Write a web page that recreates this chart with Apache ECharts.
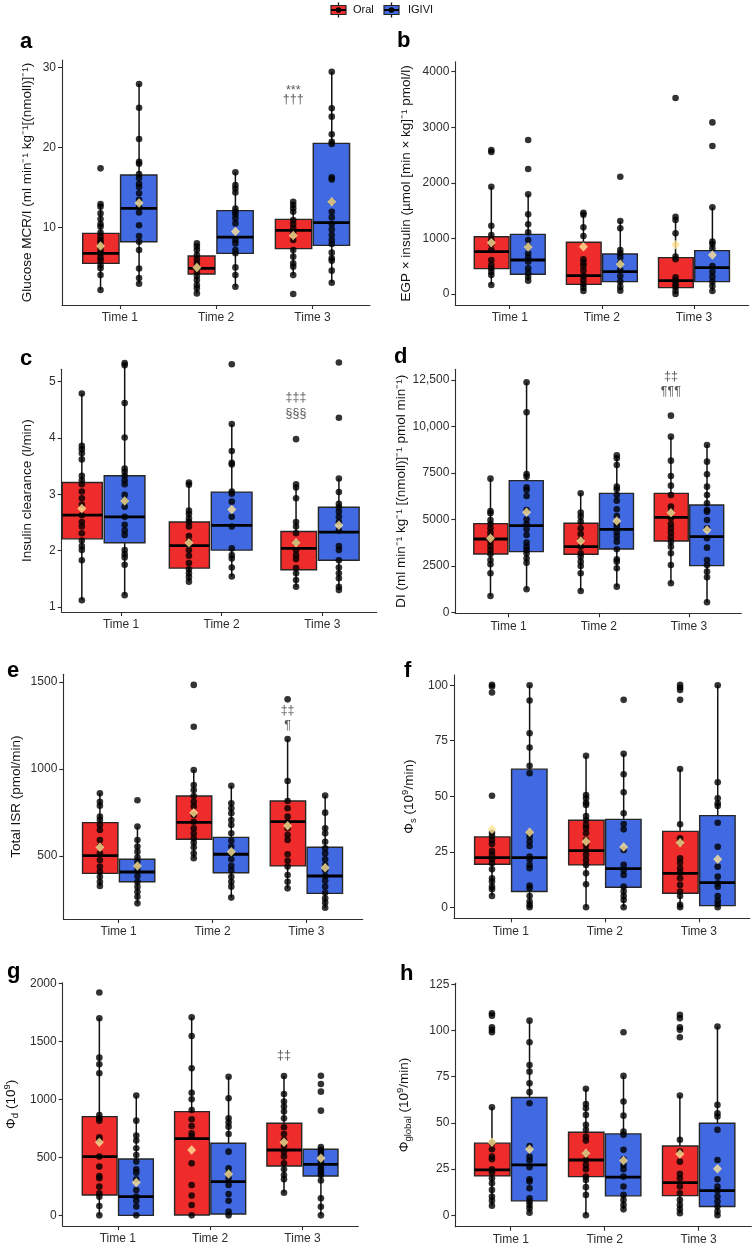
<!DOCTYPE html>
<html><head><meta charset="utf-8">
<script src="https://cdn.jsdelivr.net/npm/echarts@6/dist/echarts.min.js"></script>
<style>html,body{margin:0;padding:0;background:#fff}#c{width:756px;height:1247px}</style>
</head><body><div id="c"></div>
<script>
// ---------- categories / groups ----------
const times = ['Time 1', 'Time 2', 'Time 3'];
const groups = ['Oral', 'IGIVI'];

// ---------- panel a : Glucose MCR/I ----------
const aTicks = [10, 20, 30];
const aTickLabels = ['10', '20', '30'];
const aOralBox = [[2.2, 5.54, 6.79, 9.29, 12.96], [1.79, 4.21, 4.92, 6.46, 8.04], [4.08, 7.38, 9.67, 11.04, 13.25]];
const aIgiviBox = [[3.04, 8.25, 12.42, 16.58, 27.96], [2.63, 6.79, 8.83, 12.13, 16.92], [3.13, 7.79, 10.63, 20.54, 29.5]];
const aOralMean = [7.71, 5.04, 9.04];
const aIgiviMean = [13.1, 9.54, 13.25];
const aOralPts = [
  [17.42, 12.96, 12.63, 11.79, 11.08, 10.46, 10.13, 9.38, 8.88, 8.46, 8.13, 7.71, 7.21, 6.79, 6.29, 5.88, 5.33, 4.92, 4.08, 2.21],
  [8.04, 7.63, 7.21, 6.58, 6.04, 5.54, 5.04, 4.5, 3.96, 3.46, 2.83, 2.42, 1.79],
  [13.25, 12.83, 12.42, 12.0, 10.96, 10.46, 9.92, 9.29, 8.46, 7.21, 6.38, 5.54, 5.13, 4.08, 1.71]];
const aIgiviPts = [
  [27.96, 25.0, 21.08, 18.25, 18.0, 16.7, 16.2, 15.5, 15.1, 14.3, 13.5, 12.6, 11.9, 10.3, 8.96, 8.25, 7.2, 4.9, 3.7, 3.0],
  [16.92, 15.33, 14.9, 14.4, 12.4, 12.0, 11.67, 11.17, 10.54, 8.46, 8.04, 7.21, 6.8, 5.04, 4.08, 2.63],
  [29.5, 24.92, 23.88, 21.67, 20.75, 20.46, 16.29, 16.04, 13.25, 12.0, 11.29, 10.46, 9.79, 9.08, 8.46, 7.96, 6.88, 6.17, 5.88, 4.63, 3.13]];
const aNoteText = ['***', '†††'];
const aNoteVal = [27.2, 25.96];

// ---------- panel b : EGP x insulin ----------
const bTicks = [0, 1000, 2000, 3000, 4000];
const bTickLabels = ['0', '1000', '2000', '3000', '4000'];
const bOralBox = [[162, 456, 762, 1031, 1931], [54, 174, 330, 930, 1463], [0, 114, 240, 654, 1391]];
const bIgiviBox = [[240, 354, 612, 1073, 1793], [60, 222, 402, 720, 1313], [54, 222, 474, 780, 1559]];
const bOralMean = [923, 852, 888];
const bIgiviMean = [846, 534, 702];
const bOralPts = [
  [2591, 2555, 1931, 1229, 1061, 972, 900, 792, 612, 522, 462, 402, 342, 162],
  [1463, 1427, 1199, 1043, 624, 564, 504, 420, 324, 252, 174, 114, 54],
  [3526, 1391, 1331, 1091, 672, 624, 300, 240, 180, 132, 60, 0]];
const bIgiviPts = [
  [2771, 2249, 1793, 1433, 1253, 1109, 972, 852, 732, 660, 582, 462, 384, 312, 240],
  [2111, 1313, 1181, 792, 732, 660, 552, 432, 324, 222, 132, 60],
  [3088, 2663, 1559, 942, 900, 822, 504, 402, 312, 222, 144, 54]];

// ---------- panel c : Insulin clearance ----------
const cTicks = [1, 2, 3, 4, 5];
const cTickLabels = ['1', '2', '3', '4', '5'];
const cOralBox = [[1.12, 2.21, 2.63, 3.21, 4.79], [1.45, 1.69, 2.09, 2.51, 3.21], [1.36, 1.66, 2.04, 2.34, 3.18]];
const cIgiviBox = [[1.21, 2.14, 2.60, 3.33, 5.31], [1.54, 2.01, 2.45, 3.04, 4.25], [1.30, 1.83, 2.33, 2.77, 3.28]];
const cOralMean = [2.75, 2.14, 2.14];
const cIgiviMean = [2.88, 2.73, 2.45];
const cOralPts = [
  [4.79, 3.86, 3.80, 3.73, 3.62, 3.33, 3.25, 3.18, 3.05, 2.93, 2.82, 2.63, 2.51, 2.43, 2.31, 2.18, 2.08, 2.01, 1.83, 1.12],
  [3.21, 3.17, 2.71, 2.65, 2.57, 2.51, 2.43, 2.26, 2.16, 2.01, 1.91, 1.78, 1.67, 1.60, 1.53, 1.45],
  [3.98, 3.18, 3.12, 2.93, 2.51, 2.43, 2.31, 2.14, 2.01, 1.92, 1.85, 1.69, 1.60, 1.48, 1.36]];
const cIgiviPts = [
  [5.33, 5.29, 4.62, 4.01, 3.46, 3.40, 3.33, 3.25, 3.18, 2.99, 2.88, 2.78, 2.60, 2.46, 2.36, 2.28, 2.01, 1.94, 1.88, 1.75, 1.21],
  [5.31, 4.25, 3.77, 3.56, 3.53, 3.05, 3.01, 2.87, 2.60, 2.43, 2.04, 1.92, 1.86, 1.70, 1.54],
  [5.34, 4.36, 3.28, 3.04, 2.83, 2.77, 2.69, 2.60, 2.51, 2.36, 2.08, 2.01, 1.83, 1.70, 1.60, 1.51, 1.36, 1.30]];
const cNoteText = ['‡‡‡', '§§§'];
const cNoteVal = [4.716, 4.44];

// ---------- panel d : DI ----------
const dTicks = [0, 2500, 5000, 7500, 10000, 12500];
const dTickLabels = ['0', '2500', '5000', '7500', '10,000', '12,500'];
const dOralBox = [[879, 3138, 3945, 4770, 7192], [1148, 3120, 3533, 4788, 6402], [1560, 3838, 5111, 6402, 9451]];
const dIgiviBox = [[1237, 3264, 4663, 7084, 12374], [1381, 3407, 4466, 6402, 8411], [538, 2511, 4071, 5775, 9003]];
const dOralMean = [3981, 3838, 5362];
const dIgiviMean = [5380, 4914, 4430];
const dOralPts = [
  [7192, 5452, 5326, 4968, 4752, 4519, 4286, 4071, 3802, 3569, 3354, 3138, 2816, 2582, 2098, 879],
  [6402, 5362, 5147, 4878, 4519, 4214, 3892, 3533, 3174, 2995, 2726, 2493, 2098, 1148],
  [10581, 9451, 8160, 7335, 6815, 6313, 5685, 5416, 5057, 4752, 4519, 4286, 4035, 3802, 3533, 3174, 2547, 1560]];
const dIgiviPts = [
  [12374, 10760, 7443, 7299, 6725, 6582, 6259, 5506, 5004, 4752, 4466, 4161, 3748, 3533, 3354, 3174, 2905, 2672, 1237],
  [8447, 8285, 7927, 6761, 6618, 6313, 6008, 5542, 5183, 4788, 4609, 4304, 4071, 3802, 3390, 2852, 2726, 2367, 1381],
  [9003, 8106, 7425, 6761, 6313, 5865, 5506, 5416, 4968, 4519, 3981, 3479, 2816, 2547, 2188, 1883, 538]];
const dNoteText = ['‡‡', '¶¶¶'];
const dNoteVal = [12678, 11871];

// ---------- panel e : Total ISR ----------
const eTicks = [500, 1000, 1500];
const eTickLabels = ['500', '1000', '1500'];
const eOralBox = [[328, 400, 502, 692, 860], [487, 596, 693, 845, 994], [314, 443, 697, 816, 1172]];
const eIgiviBox = [[228, 352, 408, 481, 669], [261, 404, 510, 607, 904], [203, 285, 385, 550, 847]];
const eOralMean = [550, 749, 674];
const eIgiviMean = [443, 525, 433];
const eOralPts = [
  [860, 812, 789, 726, 707, 678, 649, 592, 554, 515, 477, 439, 410, 381, 352, 328],
  [1483, 1243, 994, 908, 879, 845, 812, 784, 736, 697, 659, 630, 602, 577, 550, 515, 487],
  [1400, 1172, 931, 816, 774, 726, 692, 659, 621, 592, 510, 473, 439, 391, 352, 314]];
const eIgiviPts = [
  [820, 669, 592, 554, 525, 492, 467, 439, 416, 385, 352, 324, 295, 266, 228],
  [904, 803, 774, 745, 707, 678, 630, 588, 554, 515, 481, 443, 416, 381, 352, 324, 261],
  [847, 749, 659, 630, 582, 544, 515, 481, 448, 420, 385, 358, 324, 289, 257, 232, 203]];
const eNoteText = ['‡‡', '¶'];
const eNoteVal = [1335, 1247];

// ---------- panel f : Phi s ----------
const fTicks = [0, 25, 50, 75, 100];
const fTickLabels = ['0', '25', '50', '75', '100'];
const fOralBox = [[5.3, 19.4, 22.4, 31.7, 31.7], [0, 19.1, 25.5, 39.2, 68.2], [0, 6.3, 15.3, 34.2, 62.3]];
const fIgiviBox = [[0, 7.1, 22.4, 62.2, 100], [0, 9.0, 17.4, 39.6, 69.1], [0, 0.75, 11.1, 41.3, 100]];
const fOralMean = [35.1, 29.6, 29.1];
const fIgiviMean = [33.8, 27.2, 21.6];
const fOralPts = [
  [100.2, 99.4, 96.7, 50.2, 33.6, 32.1, 30.3, 28.5, 25.4, 23.6, 21.6, 19.8, 17.1, 13.1, 11.6, 9.3, 8.1, 5.1],
  [68.2, 50.6, 49.1, 47.1, 46.1, 41.1, 39.3, 37.1, 35.6, 33.3, 30.3, 28.1, 25.8, 23.6, 21.3, 19.1, 15.3, 10.4, 0],
  [100.2, 99, 97.9, 93.4, 62.3, 37.4, 31.1, 29.1, 22.1, 20.1, 17.6, 15.6, 13.1, 10.1, 7.1, 5.1, 1.1, 0]];
const fIgiviPts = [
  [100, 93.1, 78.4, 71.9, 63.7, 60.4, 33.6, 31.8, 29.6, 27.6, 22.8, 21.6, 19.1, 17.6, 9.8, 8.6, 5.1, 2.6, 1.1, 0],
  [93.4, 69.1, 59.9, 51.8, 42.3, 37.5, 35.1, 25.8, 19.1, 16.8, 14.6, 9.3, 7.1, 5.1, 3.3, 0],
  [100, 56.3, 49.1, 46.8, 45.6, 38.1, 27.3, 18.3, 13.8, 10.8, 9.3, 5.1, 2.9, 1.5, 0]];

// ---------- panel g : Phi d ----------
const gTicks = [0, 500, 1000, 1500, 2000];
const gTickLabels = ['0', '500', '1000', '1500', '2000'];
const gOralBox = [[0, 175, 506, 851, 1698], [0, 3, 661, 894, 1707], [195, 425, 563, 793, 1201]];
const gIgiviBox = [[0, 0, 161, 486, 1032], [0, 11, 290, 621, 1195], [0, 339, 440, 569, 569]];
const gOralMean = [629, 563, 629];
const gIgiviMean = [282, 356, 491];
const gOralPts = [
  [1920, 1698, 1359, 1302, 1224, 865, 836, 816, 672, 649, 506, 420, 339, 319, 247, 190, 161, 80, 0],
  [1707, 1546, 1267, 1057, 1000, 908, 828, 770, 707, 678, 448, 261, 170, 89, 0],
  [1201, 1046, 980, 937, 894, 836, 759, 701, 649, 598, 549, 506, 448, 397, 348, 310, 195]];
const gIgiviPts = [
  [1032, 816, 687, 644, 578, 520, 463, 397, 368, 310, 218, 161, 126, 75, 0],
  [1195, 1009, 836, 799, 764, 701, 549, 405, 362, 319, 261, 184, 126, 32, 0],
  [1203, 1132, 1066, 902, 588, 565, 545, 520, 470, 440, 410, 390, 365, 347, 300, 147, 74, 0]];
const gNoteText = ['‡‡'];
const gNoteVal = [1373];

// ---------- panel h : Phi global ----------
const hTicks = [0, 25, 50, 75, 100, 125];
const hTickLabels = ['0', '25', '50', '75', '100', '125'];
const hOralBox = [[5.1, 21.3, 24.5, 39.0, 58.4], [0, 20.9, 29.9, 44.9, 68.4], [1.1, 10.6, 17.7, 37.5, 64.8]];
const hIgiviBox = [[1.4, 7.8, 27.2, 63.7, 105.3], [3.2, 10.5, 20.6, 44.0, 75.4], [0, 4.7, 13.3, 49.8, 102.1]];
const hOralMean = [39.5, 33.5, 33.2];
const hIgiviMean = [35.7, 29.6, 25.1];
const hOralPts = [
  [109.3, 108.0, 101.7, 100.3, 99.0, 58.4, 39.0, 35.7, 31.7, 30.3, 24.9, 23.1, 20.0, 17.3, 13.7, 10.1, 7.9, 5.1],
  [68.4, 60.2, 57.9, 54.3, 48.9, 46.2, 42.6, 40.4, 33.5, 29.9, 27.2, 24.9, 20.9, 19.1, 15.2, 11.0, 0],
  [108.4, 106.6, 101.7, 100.3, 96.3, 64.8, 40.8, 34.5, 29.0, 22.4, 20.0, 15.5, 11.9, 8.3, 5.6, 3.2, 1.1]];
const hIgiviPts = [
  [105.3, 93.6, 81.3, 77.7, 71.4, 66.6, 60.6, 37.5, 31.7, 29.6, 26.0, 19.5, 18.2, 14.6, 9.2, 7.4, 5.6, 3.8, 1.4],
  [99.0, 75.4, 61.5, 53.9, 45.3, 43.5, 35.4, 30.3, 27.2, 24.9, 20.9, 15.5, 11.0, 8.3, 5.6, 3.2],
  [102.1, 59.7, 55.2, 53.4, 46.2, 29.9, 19.5, 15.5, 13.3, 10.1, 7.4, 4.7, 2.0, 0]];

// ---------- styling / layout ----------
const FONT = '"Liberation Sans", Arial, Helvetica, sans-serif';
const RED = '#EE2C2C', BLUE = '#4169E1', MEAN = '#FFE595', INK = '#2e2e2e';
const DEF_BOX = {Oral: [-0.385, -0.008], IGIVI: [0.008, 0.385]};
const PT_OFF = {Oral: -0.2, IGIVI: 0.2};

const panels = [
  {k: 'a', L: 62, T: 60, R: 370, B: 305, y: [0.34, 30.96], lx: [0.40, 3.597], dx: [0.40, 3.597], gap: 28, letter: [20, 42.4],
   name: 'Glucose MCR/I (ml min⁻¹ kg⁻¹[(nmoll)]⁻¹)', ticks: aTicks, labels: aTickLabels,
   Oral: [aOralBox, aOralMean, aOralPts], IGIVI: [aIgiviBox, aIgiviMean, aIgiviPts], notes: [aNoteText, aNoteVal],
   boxOver: {Oral: {1: [-0.29, -0.012]}}},
  {k: 'b', L: 455.3, T: 61.7, R: 748.7, B: 305, y: [-198, 4180], lx: [0.409, 3.594], dx: [0.409, 3.594], gap: 42, letter: [397, 40.7],
   name: 'EGP × insulin (µmol [min × kg]⁻¹ pmol/l)', ticks: bTicks, labels: bTickLabels,
   Oral: [bOralBox, bOralMean, bOralPts], IGIVI: [bIgiviBox, bIgiviMean, bIgiviPts]},
  {k: 'c', L: 61.7, T: 369.3, R: 376.7, B: 612, y: [0.911, 5.22], lx: [0.411, 3.54], dx: [0.612, 3.553], gap: 27, letter: [20, 359],
   name: 'Insulin clearance (l/min)', ticks: cTicks, labels: cTickLabels,
   Oral: [cOralBox, cOralMean, cOralPts], IGIVI: [cIgiviBox, cIgiviMean, cIgiviPts], notes: [cNoteText, cNoteVal],
   boxDef: {Oral: [-0.383, -0.009], IGIVI: [0.009, 0.389]}, boxOver: {Oral: {2: [-0.341, -0.009]}}},
  {k: 'd', L: 455.3, T: 369.3, R: 741.3, B: 613.3, y: [-54, 13076], lx: [0.41, 3.58], dx: [0.41, 3.58], gap: 41, letter: [394, 357.4],
   name: 'DI (ml min⁻¹ kg⁻¹ [(nmoll)]⁻¹ pmol min⁻¹)', ticks: dTicks, labels: dTickLabels,
   Oral: [dOralBox, dOralMean, dOralPts], IGIVI: [dIgiviBox, dIgiviMean, dIgiviPts], notes: [dNoteText, dNoteVal]},
  {k: 'e', L: 63.3, T: 674.3, R: 362.7, B: 919, y: [138, 1544], lx: [0.41, 3.6], dx: [0.41, 3.6], gap: 40, letter: [7, 670.7],
   name: 'Total ISR (pmol/min)', ticks: eTicks, labels: eTickLabels,
   Oral: [eOralBox, eOralMean, eOralPts], IGIVI: [eIgiviBox, eIgiviMean, eIgiviPts], notes: [eNoteText, eNoteVal]},
  {k: 'f', L: 454, T: 675, R: 749.7, B: 918.3, y: [-4.95, 104.6], lx: [0.396, 3.54], dx: [0.396, 3.54], gap: 36, letter: [404, 670.7],
   name: '{n|Φ}{sub|s}{n| (10}{sup|9}{n|/min)}', ticks: fTicks, labels: fTickLabels,
   Oral: [fOralBox, fOralMean, fOralPts], IGIVI: [fIgiviBox, fIgiviMean, fIgiviPts]},
  {k: 'g', L: 62.7, T: 982.7, R: 358.3, B: 1226, y: [-92, 2005], lx: [0.403, 3.605], dx: [0.403, 3.605], gap: 42, letter: [7, 972.4],
   name: '{n|Φ}{sub|d}{n| (10}{sup|9}{n|)}', ticks: gTicks, labels: gTickLabels,
   Oral: [gOralBox, gOralMean, gOralPts], IGIVI: [gIgiviBox, gIgiviMean, gIgiviPts], notes: [gNoteText, gNoteVal]},
  {k: 'h', L: 455.3, T: 983.3, R: 751.3, B: 1226.7, y: [-6.2, 125.5], lx: [0.41, 3.56], dx: [0.41, 3.56], gap: 42, letter: [400, 974],
   name: '{n|Φ}{sub|global}{n| (10}{sup|9}{n|/min)}', ticks: hTicks, labels: hTickLabels,
   Oral: [hOralBox, hOralMean, hOralPts], IGIVI: [hIgiviBox, hIgiviMean, hIgiviPts]}
];

const grid = [], xAxis = [], yAxis = [], series = [], graphic = [];
const lbl = (ticks, labels) => v => { const i = ticks.findIndex(t => Math.abs(t - v) < 1e-9); return i >= 0 ? labels[i] : ''; };
const NF = 13.5;

panels.forEach((p, i) => {
  grid.push({left: p.L, top: p.T, width: p.R - p.L, height: p.B - p.T});
  xAxis.push({type: 'value', gridIndex: i, min: p.lx[0], max: p.lx[1], splitLine: {show: false},
    axisLine: {show: true, onZero: false, lineStyle: {color: INK, width: 1.1}},
    axisTick: {show: true, customValues: [1, 2, 3], length: 4, lineStyle: {color: INK, width: 1.1}},
    axisLabel: {customValues: [1, 2, 3], formatter: v => times[Math.round(v) - 1], color: INK, fontSize: 12, fontFamily: FONT, margin: 7}});
  xAxis.push({type: 'value', gridIndex: i, min: p.dx[0], max: p.dx[1], show: false});
  yAxis.push({type: 'value', gridIndex: i, min: p.y[0], max: p.y[1], splitLine: {show: false},
    axisLine: {show: true, onZero: false, lineStyle: {color: INK, width: 1.1}},
    axisTick: {show: true, customValues: p.ticks, length: 4, lineStyle: {color: INK, width: 1.1}},
    axisLabel: {customValues: p.ticks, formatter: lbl(p.ticks, p.labels), color: INK, fontSize: 12, fontFamily: FONT, margin: 6},
    name: p.name, nameLocation: 'middle', nameGap: p.gap, nameRotate: 90,
    nameTextStyle: {color: '#111', fontSize: NF, fontFamily: FONT,
      rich: {n: {fontSize: NF, fontFamily: FONT, color: '#111', lineHeight: 18, verticalAlign: 'middle'},
             sub: {fontSize: 9.5, fontFamily: FONT, color: '#111', lineHeight: 18, verticalAlign: 'bottom'},
             sup: {fontSize: 9.5, fontFamily: FONT, color: '#111', lineHeight: 18, verticalAlign: 'top'}}}});

  groups.forEach(g => {
    const [box, mean, pts] = p[g];
    const color = g === 'Oral' ? RED : BLUE;
    const def = (p.boxDef && p.boxDef[g]) || DEF_BOX[g];
    const over = (p.boxOver && p.boxOver[g]) || {};
    const po = PT_OFF[g];
    series.push({type: 'custom', name: g, xAxisIndex: 2 * i + 1, yAxisIndex: i, z: 2, silent: true,
      data: box.map((s, k) => [k + 1].concat(s)),
      encode: {x: 0, y: [1, 2, 3, 4, 5]},
      renderItem: (params, api) => {
        const t = api.value(0), lo = api.value(1), q1 = api.value(2), md = api.value(3), q3 = api.value(4), hi = api.value(5);
        const off = over[params.dataIndex] || def;
        const c = api.coord;
        const a1 = c([t + po, lo]), a2 = c([t + po, q1]), b1 = c([t + po, q3]), b2 = c([t + po, hi]);
        const tl = c([t + off[0], q3]), br = c([t + off[1], q1]);
        const m1 = c([t + off[0], md]), m2 = c([t + off[1], md]);
        const ws = {stroke: '#111', lineWidth: 1.5};
        return {type: 'group', children: [
          {type: 'line', shape: {x1: a1[0], y1: a1[1], x2: a2[0], y2: a2[1]}, style: ws},
          {type: 'line', shape: {x1: b1[0], y1: b1[1], x2: b2[0], y2: b2[1]}, style: ws},
          {type: 'rect', shape: {x: tl[0], y: tl[1], width: br[0] - tl[0], height: br[1] - tl[1]}, style: {fill: color, stroke: '#262626', lineWidth: 1.4}},
          {type: 'line', shape: {x1: m1[0], y1: m1[1], x2: m2[0], y2: m2[1]}, style: {stroke: '#000', lineWidth: 2.8}}
        ]};
      }});
    const pdata = [];
    pts.forEach((arr, k) => arr.forEach(v => pdata.push([k + 1 + po, v])));
    series.push({type: 'scatter', xAxisIndex: 2 * i + 1, yAxisIndex: i, z: 3, silent: true, clip: false,
      symbol: 'circle', symbolSize: 6.6, itemStyle: {color: '#000'}, data: pdata});
    series.push({type: 'scatter', xAxisIndex: 2 * i + 1, yAxisIndex: i, z: 4, silent: true, clip: false,
      symbol: 'diamond', symbolSize: [9, 9.5], itemStyle: {color: MEAN}, data: mean.map((v, k) => [k + 1 + po, v])});
  });

  if (p.notes) {
    const [txt, val] = p.notes;
    series.push({type: 'scatter', xAxisIndex: 2 * i + 1, yAxisIndex: i, z: 5, silent: true, clip: false,
      symbolSize: 0, data: txt.map((s, j) => ({value: [3 + PT_OFF.Oral, val[j]], label: {formatter: s}})),
      label: {show: true, position: 'inside', color: INK, fontSize: 12.5, fontFamily: FONT, align: 'center', verticalAlign: 'middle'}});
  }

  graphic.push({type: 'text', x: p.letter[0], y: p.letter[1], silent: true,
    style: {text: p.k, font: 'bold 22px ' + FONT, fill: '#000', align: 'left', verticalAlign: 'middle', textAlign: 'left', textVerticalAlign: 'middle'}});
});

// legend (boxplot key glyphs)
function key(cx, fill) {
  return [
    {type: 'line', shape: {x1: cx, y1: 2.5, x2: cx, y2: 17.5}, style: {stroke: '#111', lineWidth: 1.3}},
    {type: 'rect', shape: {x: cx - 7.5, y: 5.5, width: 15, height: 9}, style: {fill: fill, stroke: '#262626', lineWidth: 1.2}},
    {type: 'line', shape: {x1: cx - 7.5, y1: 10, x2: cx + 7.5, y2: 10}, style: {stroke: '#000', lineWidth: 2}},
    {type: 'circle', shape: {cx: cx, cy: 10, r: 2.8}, style: {fill: '#000'}}
  ];
}
key(338.5, RED).concat(key(391.5, BLUE)).forEach(e => { e.silent = true; graphic.push(e); });
graphic.push({type: 'text', x: 353, y: 10, silent: true, style: {text: groups[0], font: '11px ' + FONT, fill: '#111', verticalAlign: 'middle', textVerticalAlign: 'middle'}});
graphic.push({type: 'text', x: 408, y: 10, silent: true, style: {text: groups[1], font: '11px ' + FONT, fill: '#111', verticalAlign: 'middle', textVerticalAlign: 'middle'}});

const chart = echarts.init(document.getElementById('c'), null, {renderer: 'canvas'});
chart.setOption({animation: false, backgroundColor: '#fff', grid, xAxis, yAxis, series, graphic});
</script></body></html>
